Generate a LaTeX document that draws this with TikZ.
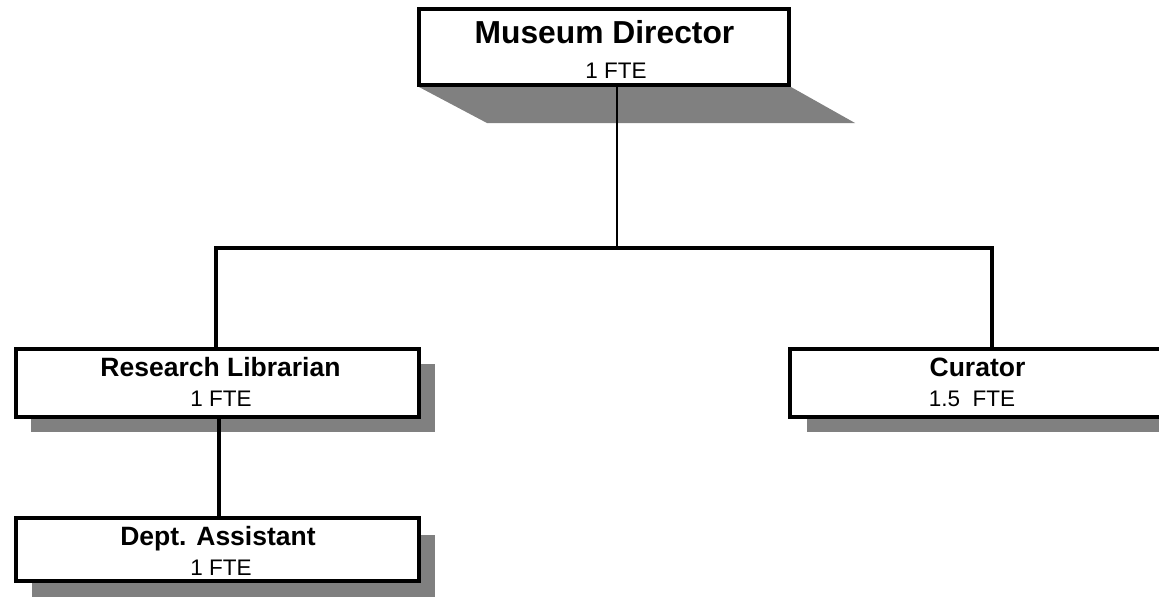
\documentclass[tikz,border=0pt]{standalone}
\usepackage{fontspec}
\setmainfont{Liberation Sans}
\begin{document}
\begin{tikzpicture}[x=1pt,y=1pt,
  orgbox/.style={draw=black, line width=4pt, fill=white, rectangle, inner sep=0pt},
  shade/.style={fill=black!50, draw=none},
  bigtitle/.style={anchor=base, inner sep=0pt, font=\bfseries\fontsize{31.8}{36}\selectfont},
  ttl/.style={anchor=base, inner sep=0pt, font=\bfseries\fontsize{26.5}{30}\selectfont},
  sub/.style={anchor=base, inner sep=0pt, font=\fontsize{22.5}{26}\selectfont},
  thinconn/.style={line width=1.6pt},
  conn/.style={line width=3.4pt}]
\useasboundingbox (0,0) rectangle (1159,-598);
\fill[white] (0,0) rectangle (1159,-598);

% shadows
\coordinate (mdshA) at (419,-87);
\coordinate (mdshB) at (487,-123);
\coordinate (mdshC) at (855,-123);
\coordinate (mdshD) at (791,-87);
\fill[shade] (mdshA) -- (mdshB) -- (mdshC) -- (mdshD) -- cycle;
\fill[shade] (31,-364) rectangle (435,-432);
\fill[shade] (807,-364) rectangle (1170,-432);
\fill[shade] (32,-535) rectangle (435,-597);

% boxes
\node[orgbox, minimum width=370pt, minimum height=76pt] (md) at (604,-47) {};
\node[orgbox, minimum width=403pt, minimum height=68pt] (rl) at (217.5,-383) {};
\node[orgbox, minimum width=374pt, minimum height=68pt] (cu) at (977,-383) {};
\node[orgbox, minimum width=403pt, minimum height=63pt] (da) at (217.5,-549.5) {};

% texts
\node[bigtitle] (mdt) at (604.5,-43.5) {Museum Director};
\node[sub] (mds) at (616,-78) {1 FTE};
\node[ttl] (rlt) at (220.5,-376.5) {Research Librarian};
\node[sub] (rls) at (221,-406) {1 FTE};
\node[ttl] (cut) at (977.5,-376.5) {Curator};
\node[sub] (cus) at (972,-406) {1.5\ \ FTE};
\node[ttl] (dat) at (218,-545.5) {Dept. Assistant};
\node[sub] (das) at (221,-575) {1 FTE};

% connectors
\coordinate (barL) at (216,-248);
\coordinate (barR) at (992,-248);
\coordinate (barM) at (617,-248);
\draw[thinconn] ([xshift=13pt]md.south) -- (barM);
\draw[conn] ([xshift=-1.7pt]barL) -- ([xshift=1.7pt]barR);
\draw[conn] (barL) -- (barL |- rl.north);
\draw[conn] (barR) -- (barR |- cu.north);
\draw[conn] ([xshift=1.5pt]rl.south) -- ([xshift=1.5pt]da.north);
\end{tikzpicture}
\end{document}
